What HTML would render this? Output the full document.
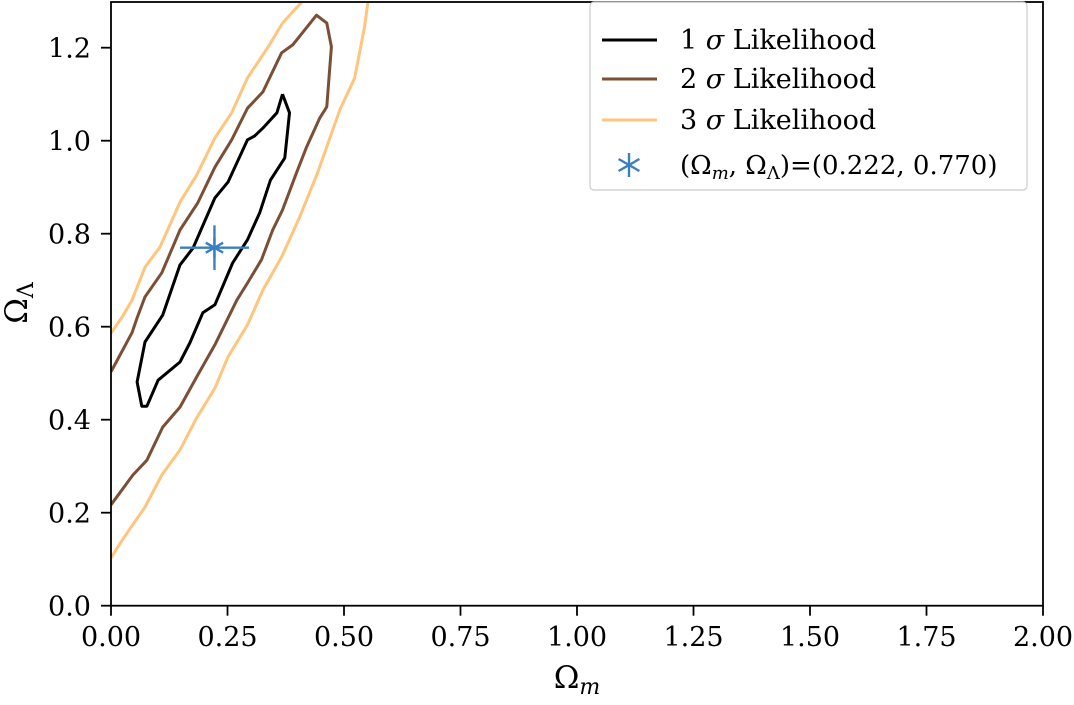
<!DOCTYPE html>
<html><head><meta charset="utf-8"><style>
body{margin:0;background:#fff}
svg text{font-family:"DejaVu Serif","Liberation Serif",serif;fill:#000}
</style></head><body>
<svg id="c" width="1074" height="700" xmlns="http://www.w3.org/2000/svg"></svg>
<script>
const xTicks=[0,0.25,0.5,0.75,1.0,1.25,1.5,1.75,2.0];
const xTickLabels=["0.00","0.25","0.50","0.75","1.00","1.25","1.50","1.75","2.00"];
const yTicks=[0,0.2,0.4,0.6,0.8,1.0,1.2];
const yTickLabels=["0.0","0.2","0.4","0.6","0.8","1.0","1.2"];
const sigma1X=[0.368,0.383,0.373,0.342,0.319,0.293,0.261,0.223,0.197,0.169,0.148,0.101,0.077,0.066,0.056,0.073,0.111,0.148,0.176,0.223,0.251,0.293,0.308,0.326,0.356,0.368];
const sigma1Y=[1.100,1.060,0.963,0.915,0.845,0.787,0.737,0.647,0.630,0.565,0.524,0.485,0.429,0.429,0.481,0.567,0.625,0.733,0.769,0.877,0.911,1.002,1.010,1.027,1.060,1.100];
const sigma2X=[0,0.045,0.056,0.073,0.109,0.148,0.186,0.223,0.259,0.293,0.326,0.366,0.390,0.441,0.463,0.473,0.469,0.463,0.448,0.420,0.398,0.368,0.347,0.323,0.293,0.270,0.223,0.184,0.148,0.111,0.077,0.047,0];
const sigma2Y=[0.503,0.587,0.619,0.664,0.716,0.808,0.866,0.943,1.002,1.070,1.105,1.189,1.206,1.270,1.253,1.202,1.152,1.073,1.049,0.987,0.931,0.851,0.808,0.744,0.694,0.657,0.561,0.492,0.427,0.384,0.313,0.281,0.217];
const sigma3LeftX=[0,0.024,0.045,0.073,0.105,0.148,0.184,0.223,0.259,0.293,0.340,0.368,0.409,0.426];
const sigma3LeftY=[0.586,0.621,0.657,0.728,0.771,0.868,0.926,1.006,1.060,1.135,1.206,1.253,1.298,1.313];
const sigma3RightX=[0.553,0.551,0.544,0.523,0.491,0.443,0.405,0.366,0.326,0.293,0.251,0.223,0.184,0.148,0.109,0.073,0.024,0];
const sigma3RightY=[1.313,1.296,1.244,1.135,1.066,0.930,0.836,0.750,0.679,0.604,0.535,0.468,0.404,0.335,0.281,0.212,0.141,0.103];
const bestFit=[0.222,0.770];
const bestErr=[0.074,0.048];

const L=111,R=1043,T=2,B=605.7;
const xMin=0,xMax=2,yMin=0,yMax=1.3;
const sx=v=>L+(v-xMin)/(xMax-xMin)*(R-L);
const sy=v=>B-(v-yMin)*465;
const svg=document.getElementById('c');
const NS='http://www.w3.org/2000/svg';
function mk(tag,attrs,parent){const e=document.createElementNS(NS,tag);for(const k in attrs)e.setAttribute(k,attrs[k]);(parent||svg).appendChild(e);return e;}

const defs=mk('defs',{});
const cp=mk('clipPath',{id:'clip'},defs);
mk('rect',{x:L,y:T,width:R-L,height:B-T},cp);
const plot=mk('g',{'clip-path':'url(#clip)'});



function line(xs,ys,color,name){
  const d=xs.map((x,i)=>(i?'L':'M')+sx(x).toFixed(1)+','+sy(ys[i]).toFixed(1)).join('');
  const p=mk('path',{d:d,fill:'none',stroke:color,'stroke-width':3,'stroke-linejoin':'round'},plot);
  
  
}
line(sigma3LeftX,sigma3LeftY,'#ffc57c','sigma3-contour-left');
line(sigma3RightX,sigma3RightY,'#ffc57c','sigma3-contour-right');
line(sigma2X,sigma2Y,'#7b4f35','sigma2-contour');
line(sigma1X,sigma1Y,'#000','sigma1-contour');

const bf=mk('g',{stroke:'#3a7fc1','stroke-width':2.4},plot);


const cx=sx(bestFit[0]),cy=sy(bestFit[1]);
mk('line',{x1:sx(bestFit[0]-bestErr[0]),y1:cy,x2:sx(bestFit[0]+bestErr[0]),y2:cy},bf);
mk('line',{x1:cx,y1:sy(bestFit[1]-bestErr[1]),x2:cx,y2:sy(bestFit[1]+bestErr[1])},bf);
for(let a=0;a<3;a++){const t=a*Math.PI/3+Math.PI/2;mk('line',{x1:cx-10*Math.cos(t),y1:cy-10*Math.sin(t),x2:cx+10*Math.cos(t),y2:cy+10*Math.sin(t)},bf);}

const fr=mk('rect',{x:L,y:T,width:R-L,height:B-T,fill:'none',stroke:'#000','stroke-width':1.8});



xTicks.forEach((v,i)=>{
  const x=sx(v);
  const t=mk('line',{x1:x,y1:B,x2:x,y2:B+10,stroke:'#000','stroke-width':1.8});
  
  
  const lb=mk('text',{x:x,y:646,'text-anchor':'middle','font-size':27});
  lb.textContent=xTickLabels[i];
  
  
});
yTicks.forEach((v,i)=>{
  const y=sy(v);
  const t=mk('line',{x1:L-10,y1:y,x2:L,y2:y,stroke:'#000','stroke-width':1.8});
  
  
  const lb=mk('text',{x:L-20,y:y+10,'text-anchor':'end','font-size':27});
  lb.textContent=yTickLabels[i];
  
  
});
</script>
<svg style="position:absolute;left:0;top:0" width="1074" height="700" xmlns="http://www.w3.org/2000/svg">
<text x="577" y="688" text-anchor="middle" font-size="31">Ω<tspan font-style="italic" font-size="22" dy="6">m</tspan></text>
<text transform="translate(27,303) rotate(-90)" text-anchor="middle" font-size="31">Ω<tspan font-size="22" dy="6">Λ</tspan></text>
<g>
<rect x="590" y="2" width="437" height="188" rx="4" fill="#fff" fill-opacity="0.85" stroke="#ccc" stroke-width="1.2"/>
<g><line x1="602" y1="40" x2="657" y2="40" stroke="#000" stroke-width="3"/><text x="680" y="49" font-size="27">1 <tspan font-style="italic">σ</tspan> Likelihood</text></g>
<g><line x1="602" y1="79" x2="657" y2="79" stroke="#7b4f35" stroke-width="3"/><text x="680" y="88" font-size="27">2 <tspan font-style="italic">σ</tspan> Likelihood</text></g>
<g><line x1="602" y1="120" x2="657" y2="120" stroke="#ffc57c" stroke-width="3"/><text x="680" y="129" font-size="27">3 <tspan font-style="italic">σ</tspan> Likelihood</text></g>
<g stroke="#3a7fc1" stroke-width="2.4">
<line x1="629" y1="153" x2="629" y2="177"/><line x1="618.6" y1="159" x2="639.4" y2="171"/><line x1="618.6" y1="171" x2="639.4" y2="159"/>
<text x="680" y="174" font-size="26" stroke="none">(Ω<tspan font-style="italic" font-size="18" dy="5">m</tspan><tspan dy="-5">, Ω</tspan><tspan font-size="18" dy="5">Λ</tspan><tspan dy="-5">)=(0.222, 0.770)</tspan></text>
</g>
</g>
</svg>
</body></html>
